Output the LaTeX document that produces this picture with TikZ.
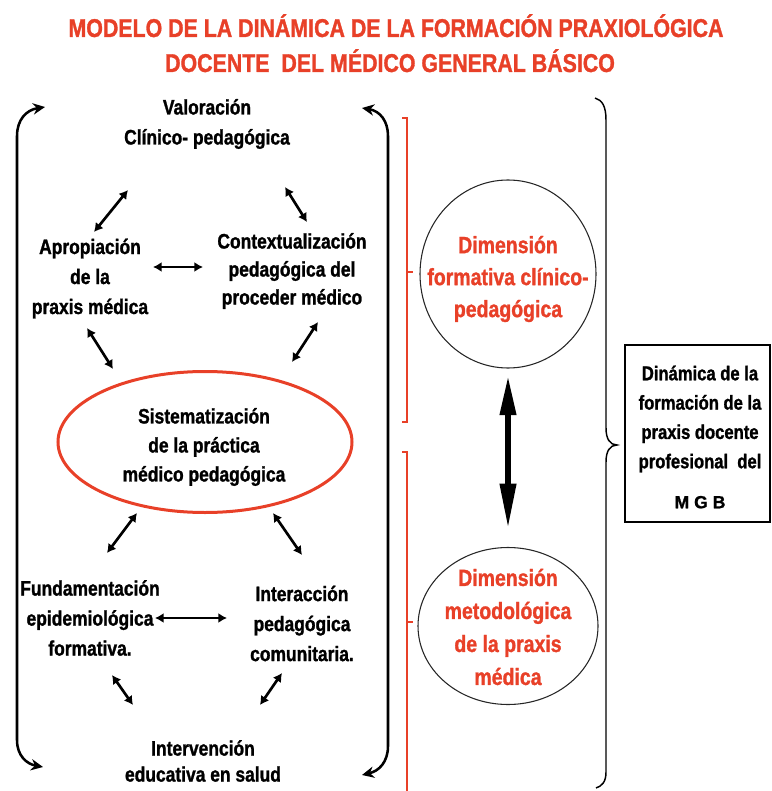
\documentclass[tikz,border=0pt]{standalone}
\usepackage{fontspec}
\setmainfont{Liberation Sans}[FakeStretch=0.83, BoldFeatures={FakeBold=1.2}]
\newfontfamily\widefont{Liberation Sans}[BoldFeatures={FakeBold=1.2}]
\usetikzlibrary{arrows.meta,shapes.geometric}
\definecolor{tred}{RGB}{232,64,40}
\begin{document}
\begin{tikzpicture}[x=0.75pt,y=-0.75pt,
  btxt/.style={font=\fontsize{15.75pt}{22.5pt}\selectfont\bfseries, align=center, inner sep=0pt},
  rtxt/.style={font=\fontsize{17.6pt}{24pt}\selectfont\bfseries, text=tred, align=center, inner sep=0pt},
  ttl/.style={font=\fontsize{19.3pt}{26pt}\selectfont\bfseries, text=tred, inner sep=0pt, anchor=base},
  dar/.style={line width=2pt, {Latex[length=6.5pt,width=7.5pt]}-{Latex[length=6.5pt,width=7.5pt]}},
  brk/.style={line width=1.9pt, {Stealth[length=9pt,width=8.5pt]}-{Stealth[length=9pt,width=8.5pt]}},
  rbr/.style={draw=tred, line width=1.5pt},
  oval/.style={ellipse, draw, inner sep=0pt},
  bigarr/.style={line width=4.5pt, {Triangle[length=30pt,width=11.5pt]}-{Triangle[length=34pt,width=11.5pt]}}
]
\useasboundingbox (0,0) rectangle (771,791);

% title
\node[ttl] (t1) at (396,37) {MODELO DE LA DINÁMICA DE LA FORMACIÓN PRAXIOLÓGICA};
\node[ttl] (t2) at (390,72) {DOCENTE\ \ DEL MÉDICO GENERAL BÁSICO};

% left group texts
\node[btxt] (val) at (207,124) {Valoración\\Clínico- pedagógica};
\node[btxt] (apr) at (90,278.5) {Apropiación\\de la\\praxis médica};
\node[btxt, font=\fontsize{15.75pt}{21pt}\selectfont\bfseries] (ctx) at (292,271) {Contextualización\\pedagógica del\\proceder médico};
\node[oval, draw=tred, line width=2.25pt, minimum width=220.5pt, minimum height=105.75pt] (sisE) at (205,442) {};
\node[btxt, font=\fontsize{15.75pt}{21.75pt}\selectfont\bfseries] (sis) at (204,447) {Sistematización\\de la práctica\\médico pedagógica};
\node[btxt] (fun) at (90,618) {Fundamentación\\epidemiológica\\formativa.};
\node[btxt] (int) at (302,623.5) {Interacción\\pedagógica\\comunitaria.};
\node[btxt, font=\fontsize{15.75pt}{19.5pt}\selectfont\bfseries] (intv) at (203,761) {Intervención\\educativa en salud};

% small double arrows
\coordinate (a1s) at (128,190); \coordinate (a1e) at (94,232);
\coordinate (a2s) at (285,187); \coordinate (a2e) at (307,222);
\coordinate (a3s) at (153,267); \coordinate (a3e) at (203,267);
\coordinate (a4s) at (87,328);  \coordinate (a4e) at (113,369);
\coordinate (a5s) at (318,322); \coordinate (a5e) at (292,362);
\coordinate (a6s) at (137,513); \coordinate (a6e) at (107,553);
\coordinate (a7s) at (273,513); \coordinate (a7e) at (302,555);
\coordinate (a8s) at (155,618); \coordinate (a8e) at (227,618);
\coordinate (a9s) at (112,675); \coordinate (a9e) at (133,705);
\coordinate (a10s) at (282,673); \coordinate (a10e) at (260,705);
\foreach \i in {1,...,10} {\draw[dar] (a\i s) -- (a\i e);}

% black side brackets with arrows
\coordinate (lbt) at (45,107); \coordinate (lbb) at (43,767);
\coordinate (rbt) at (362,108); \coordinate (rbb) at (362,775);
\draw[brk] (lbt) .. controls (26,110) and (17,120) .. (17,136) -- (17,740) .. controls (17,756) and (27,764) .. (lbb);
\draw[brk] (rbt) .. controls (380,111) and (388,121) .. (388,136) -- (388,746) .. controls (388,762) and (379,771) .. (rbb);

% red square braces
\draw[rbr] (402,118) -- (407,118) -- (407,422) -- (402,422);
\draw[rbr] (407,272) -- (413,272);
\draw[rbr] (402,452) -- (407,452) -- (407,795);
\draw[rbr] (407,622) -- (413,622);

% dimension circles
\node[oval, draw=black!85, line width=0.8pt, minimum width=132pt, minimum height=141pt] (d1) at (508,274) {};
\node[rtxt] (d1t) at (508,279) {Dimensión\\formativa clínico-\\pedagógica};
\node[oval, draw=black!85, line width=0.8pt, minimum width=135pt, minimum height=117.75pt] (d2) at (508,626) {};
\node[rtxt, font=\fontsize{17.6pt}{24.75pt}\selectfont\bfseries] (d2t) at (508,627) {Dimensión\\metodológica\\de la praxis\\médica};
\draw[bigarr, shorten <=5pt, shorten >=13.5pt] (d1.south) -- (d2.north);

% big curly brace
\draw[line width=1.1pt] (595,98) .. controls (602,100) and (606,106) .. (606,120) -- (606,428) .. controls (606,439) and (610,445) .. (617,445) .. controls (610,445) and (606,451) .. (606,462) -- (606,772) .. controls (606,782) and (602,786) .. (596,788);

% result box
\node[draw, line width=0.9pt, minimum width=108.75pt, minimum height=132.75pt, inner sep=0pt] (box) at (697.5,433.5) {};
\node[btxt, font=\fontsize{15pt}{22pt}\selectfont\bfseries] (boxt) at (700,437) {Dinámica de la\\formación de la\\praxis docente\\profesional\ \ del\\[8pt]{\widefont\fontsize{13.2pt}{14pt}\selectfont\bfseries M G B}};
\end{tikzpicture}
\end{document}
